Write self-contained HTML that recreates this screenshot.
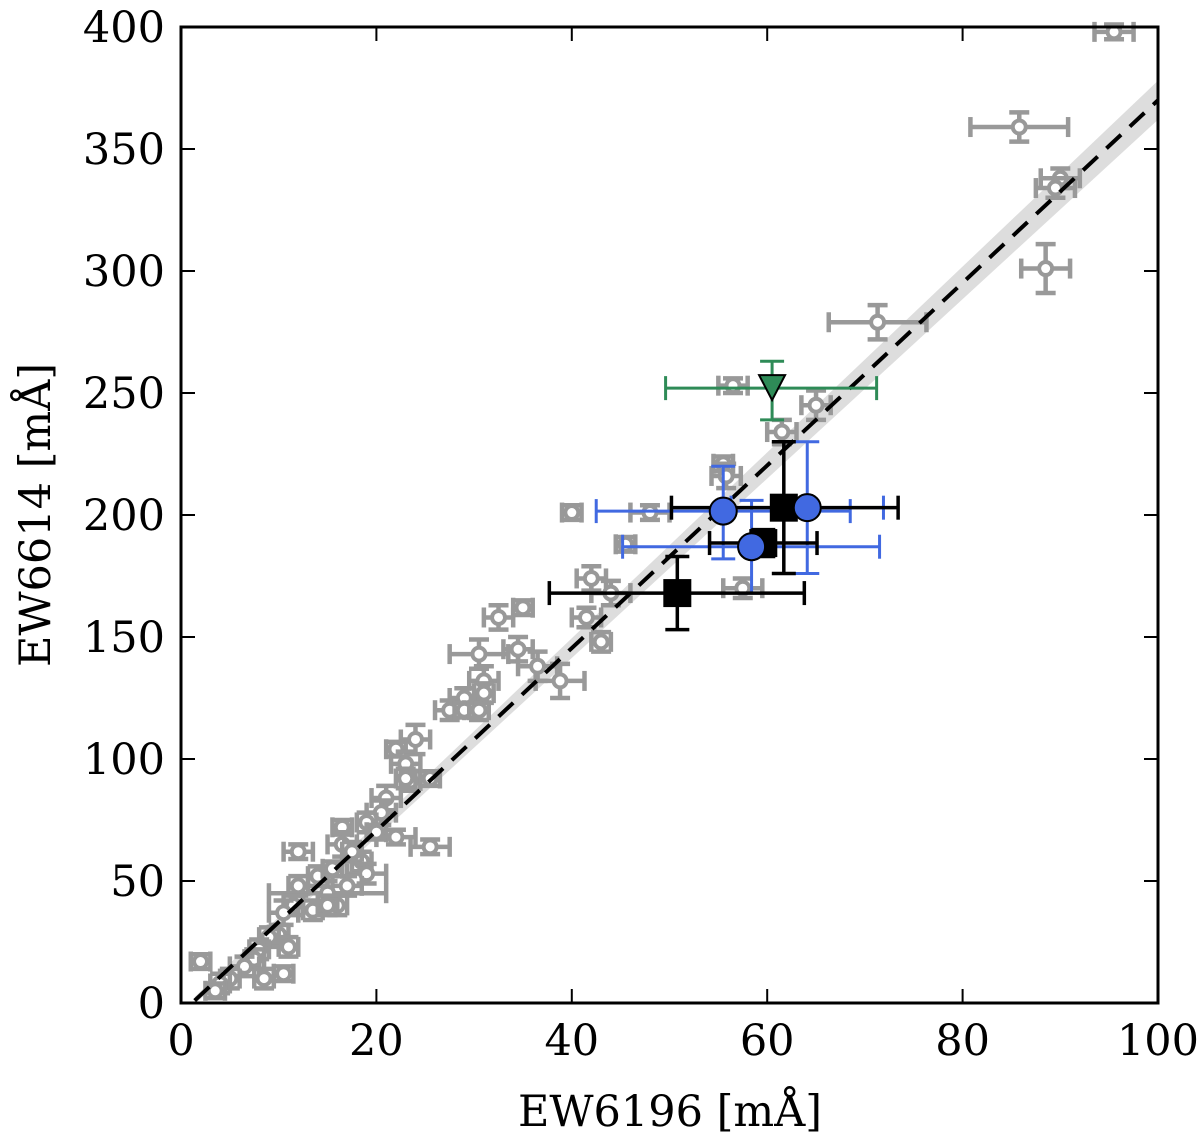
<!DOCTYPE html>
<html><head><meta charset="utf-8"><style>
body{margin:0;background:#fff}
svg{display:block}
text{font-family:"DejaVu Serif","Liberation Serif",serif;font-size:43px;fill:#000}
</style></head><body>
<svg id="chart" width="1200" height="1137" viewBox="0 0 1200 1137" xmlns="http://www.w3.org/2000/svg">
<g id="fitBandLayer"></g>
<g id="grayLayer"></g>
<g id="fitLayer"></g>
<g id="specLayer"></g>
<g id="axLayer"></g>
<text x="670" y="1126" text-anchor="middle">EW6196 [mÅ]</text>
<text transform="translate(50,515) rotate(-90)" text-anchor="middle">EW6614 [mÅ]</text>
</svg>
<script>
const xTicks=[0,20,40,60,80,100];
const yTicks=[0,50,100,150,200,250,300,350,400];
// gray sample: x, y, xerr, yerr
const grayX=[95.5,85.8,90,89.5,88.5,71.3,65,61.5,56.5,55.5,55.8,40,48,45.5,57.5,42,44,43,41.5,38.8,35,32.5,30.5,34.5,36.5,31,29,27.5,29,30.5,31,24,22,23,23.5,25.5,21,20.5,22,25.5,19,16.5,16.5,18.5,17.5,19,17,16,15,14,13.5,12,12,11.5,10.5,10,11,10.5,9,8,7.5,6.5,5,4,3.5,2,8.5,15.5,15,20,23];
const grayY=[398,359,338,334,301,279,245,234,253,221,216,201,201,188,170,174,168,148,158,132,162,158,143,145,138,132,125,120,120,120,127,108,104,98,91,92,84,78,68,64,74,72,65,58,62,53,48,40,45,52,38,62,48,40,37,28,23,12,27,22,18,15,10,8,5,17,10,55,40,70,92];
const grayXe=[2,5,2,2,2.5,5,1.5,1.5,1.5,1,1.5,1,2,1,2,1.5,2,1,1.5,2.5,1,1.5,3,1.5,2,1.5,1.5,1.5,1,1,1,1.5,1,1.5,1,1,1.5,1.5,2,2,1,1,1.5,1,1,2,1.5,1,6,1,1,1.5,1,1,1.5,1,1,1,1,1,1,1.5,1,1,1,1,1,1,1,1,1];
const grayYe=[3,6,4,4,10,7,6,5,3,3,5,3,3,3,4,5,5,4,4,7,3,5,6,5,6,6,4,4,3,4,4,6,3,5,4,3,5,5,3,3,4,3,5,4,4,4,4,4,5,4,4,3,4,4,5,4,4,3,4,4,4,4,4,4,3,3,4,3,4,3,4];
// black squares
const sqX=[50.8,59.6,61.7], sqY=[168,188.5,203];
const sqXlo=[37.7,54.1,50.2], sqXhi=[63.8,65.1,73.4];
const sqYlo=[153,183,176], sqYhi=[183,194,230];
// blue circles
const ciX=[55.5,58.4,64.1], ciY=[201.6,187,203];
const ciXlo=[42.5,45.2,56.3], ciXhi=[68.5,71.5,71.9];
const ciYlo=[182,168,176], ciYhi=[220,206,230];
// green triangle
const trX=[60.5], trY=[252], trXlo=[49.6], trXhi=[71.2], trYlo=[239], trYhi=[263];
const fitX=[1.4,100], fitY=[1,370], fitBandLo=[1.5], fitBandHi=[8];

const X0=181,X1=1158,Y0=1003,Y1=27;
const sx=v=>X0+(v-0)/100*(X1-X0);
const sy=v=>Y0-(v-0)/400*(Y0-Y1);
const NS="http://www.w3.org/2000/svg";
function mk(tag,attrs,parent){const e=document.createElementNS(NS,tag);for(const k in attrs)e.setAttribute(k,attrs[k]);parent.appendChild(e);return e;}
function errbar(p,x,y,xl,xh,yl,yh,col,w,cap){
  mk('line',{x1:sx(xl),x2:sx(xh),y1:sy(y),y2:sy(y),stroke:col,'stroke-width':w},p);
  mk('line',{x1:sx(x),x2:sx(x),y1:sy(yl),y2:sy(yh),stroke:col,'stroke-width':w},p);
  [[sx(xl),sy(y),1],[sx(xh),sy(y),1],[sx(x),sy(yl),0],[sx(x),sy(yh),0]].forEach(([a,b,v])=>{
    if(v)mk('line',{x1:a,x2:a,y1:b-cap,y2:b+cap,stroke:col,'stroke-width':w},p);
    else mk('line',{x1:a-cap,x2:a+cap,y1:b,y2:b,stroke:col,'stroke-width':w},p);
  });
}
const bl=document.getElementById('fitBandLayer');
const b0=fitBandLo[0],b1=fitBandHi[0];
const band=mk('polygon',{points:`${sx(fitX[0])},${sy(fitY[0]+b0)} ${sx(fitX[1])},${sy(fitY[1]+b1)} ${sx(fitX[1])},${sy(fitY[1]-b1)} ${sx(fitX[0])},${sy(fitY[0]-b0)}`,fill:'#ddd'},bl);


const gl=document.getElementById('grayLayer');
grayX.forEach((x,i)=>{
  const g=mk('g',{},gl);
  
  
  errbar(g,x,grayY[i],x-grayXe[i],x+grayXe[i],grayY[i]-grayYe[i],grayY[i]+grayYe[i],'#999',4.5,10);
  mk('circle',{cx:sx(x),cy:sy(grayY[i]),r:6.5,fill:'#fff',stroke:'#999','stroke-width':4},g);
});
const fl=document.getElementById('fitLayer');
const fline=mk('line',{x1:sx(fitX[0]),y1:sy(fitY[0]),x2:sx(fitX[1]),y2:sy(fitY[1]),stroke:'#000','stroke-width':4,'stroke-dasharray':'20,12'},fl);


const sl=document.getElementById('specLayer');
ciX.forEach((x,i)=>{const g=mk('g',{},sl);
  
  
  errbar(g,x,ciY[i],ciXlo[i],ciXhi[i],ciYlo[i],ciYhi[i],'#4169e1',3,12);});
sqX.forEach((x,i)=>{const g=mk('g',{},sl);
  
  
  errbar(g,x,sqY[i],sqXlo[i],sqXhi[i],sqYlo[i],sqYhi[i],'#000',3.5,12);
  mk('rect',{x:sx(x)-14,y:sy(sqY[i])-14,width:28,height:28,fill:'#000'},g);});
ciX.forEach((x,i)=>{const c=mk('circle',{cx:sx(x),cy:sy(ciY[i]),r:13.5,fill:'#4169e1',stroke:'#000','stroke-width':2},sl);
  
  });
trX.forEach((x,i)=>{const g=mk('g',{},sl);
  
  
  errbar(g,x,trY[i],trXlo[i],trXhi[i],trYlo[i],trYhi[i],'#2e8b57',3,12);
  const cx=sx(x),cy=sy(trY[i]);
  mk('polygon',{points:`${cx-13},${cy-13} ${cx+13},${cy-13} ${cx},${cy+12}`,fill:'#2e8b57',stroke:'#000','stroke-width':2},g);});
const al=document.getElementById('axLayer');
const fr=mk('rect',{x:X0,y:Y1,width:X1-X0,height:Y0-Y1,fill:'none',stroke:'#000','stroke-width':3},al);


xTicks.forEach(t=>{const x=sx(t);
  mk('line',{x1:x,x2:x,y1:Y0,y2:Y0-14,stroke:'#000','stroke-width':2},al);
  mk('line',{x1:x,x2:x,y1:Y1,y2:Y1+14,stroke:'#000','stroke-width':2},al);
  const tx=mk('text',{x:x,y:1055,'text-anchor':'middle'},al);tx.textContent=t;
  
  });
yTicks.forEach(t=>{const y=sy(t);
  mk('line',{x1:X0,x2:X0+14,y1:y,y2:y,stroke:'#000','stroke-width':2},al);
  mk('line',{x1:X1,x2:X1-14,y1:y,y2:y,stroke:'#000','stroke-width':2},al);
  const tx=mk('text',{x:165,y:y+15,'text-anchor':'end'},al);tx.textContent=t;
  
  });
</script>
</body></html>
